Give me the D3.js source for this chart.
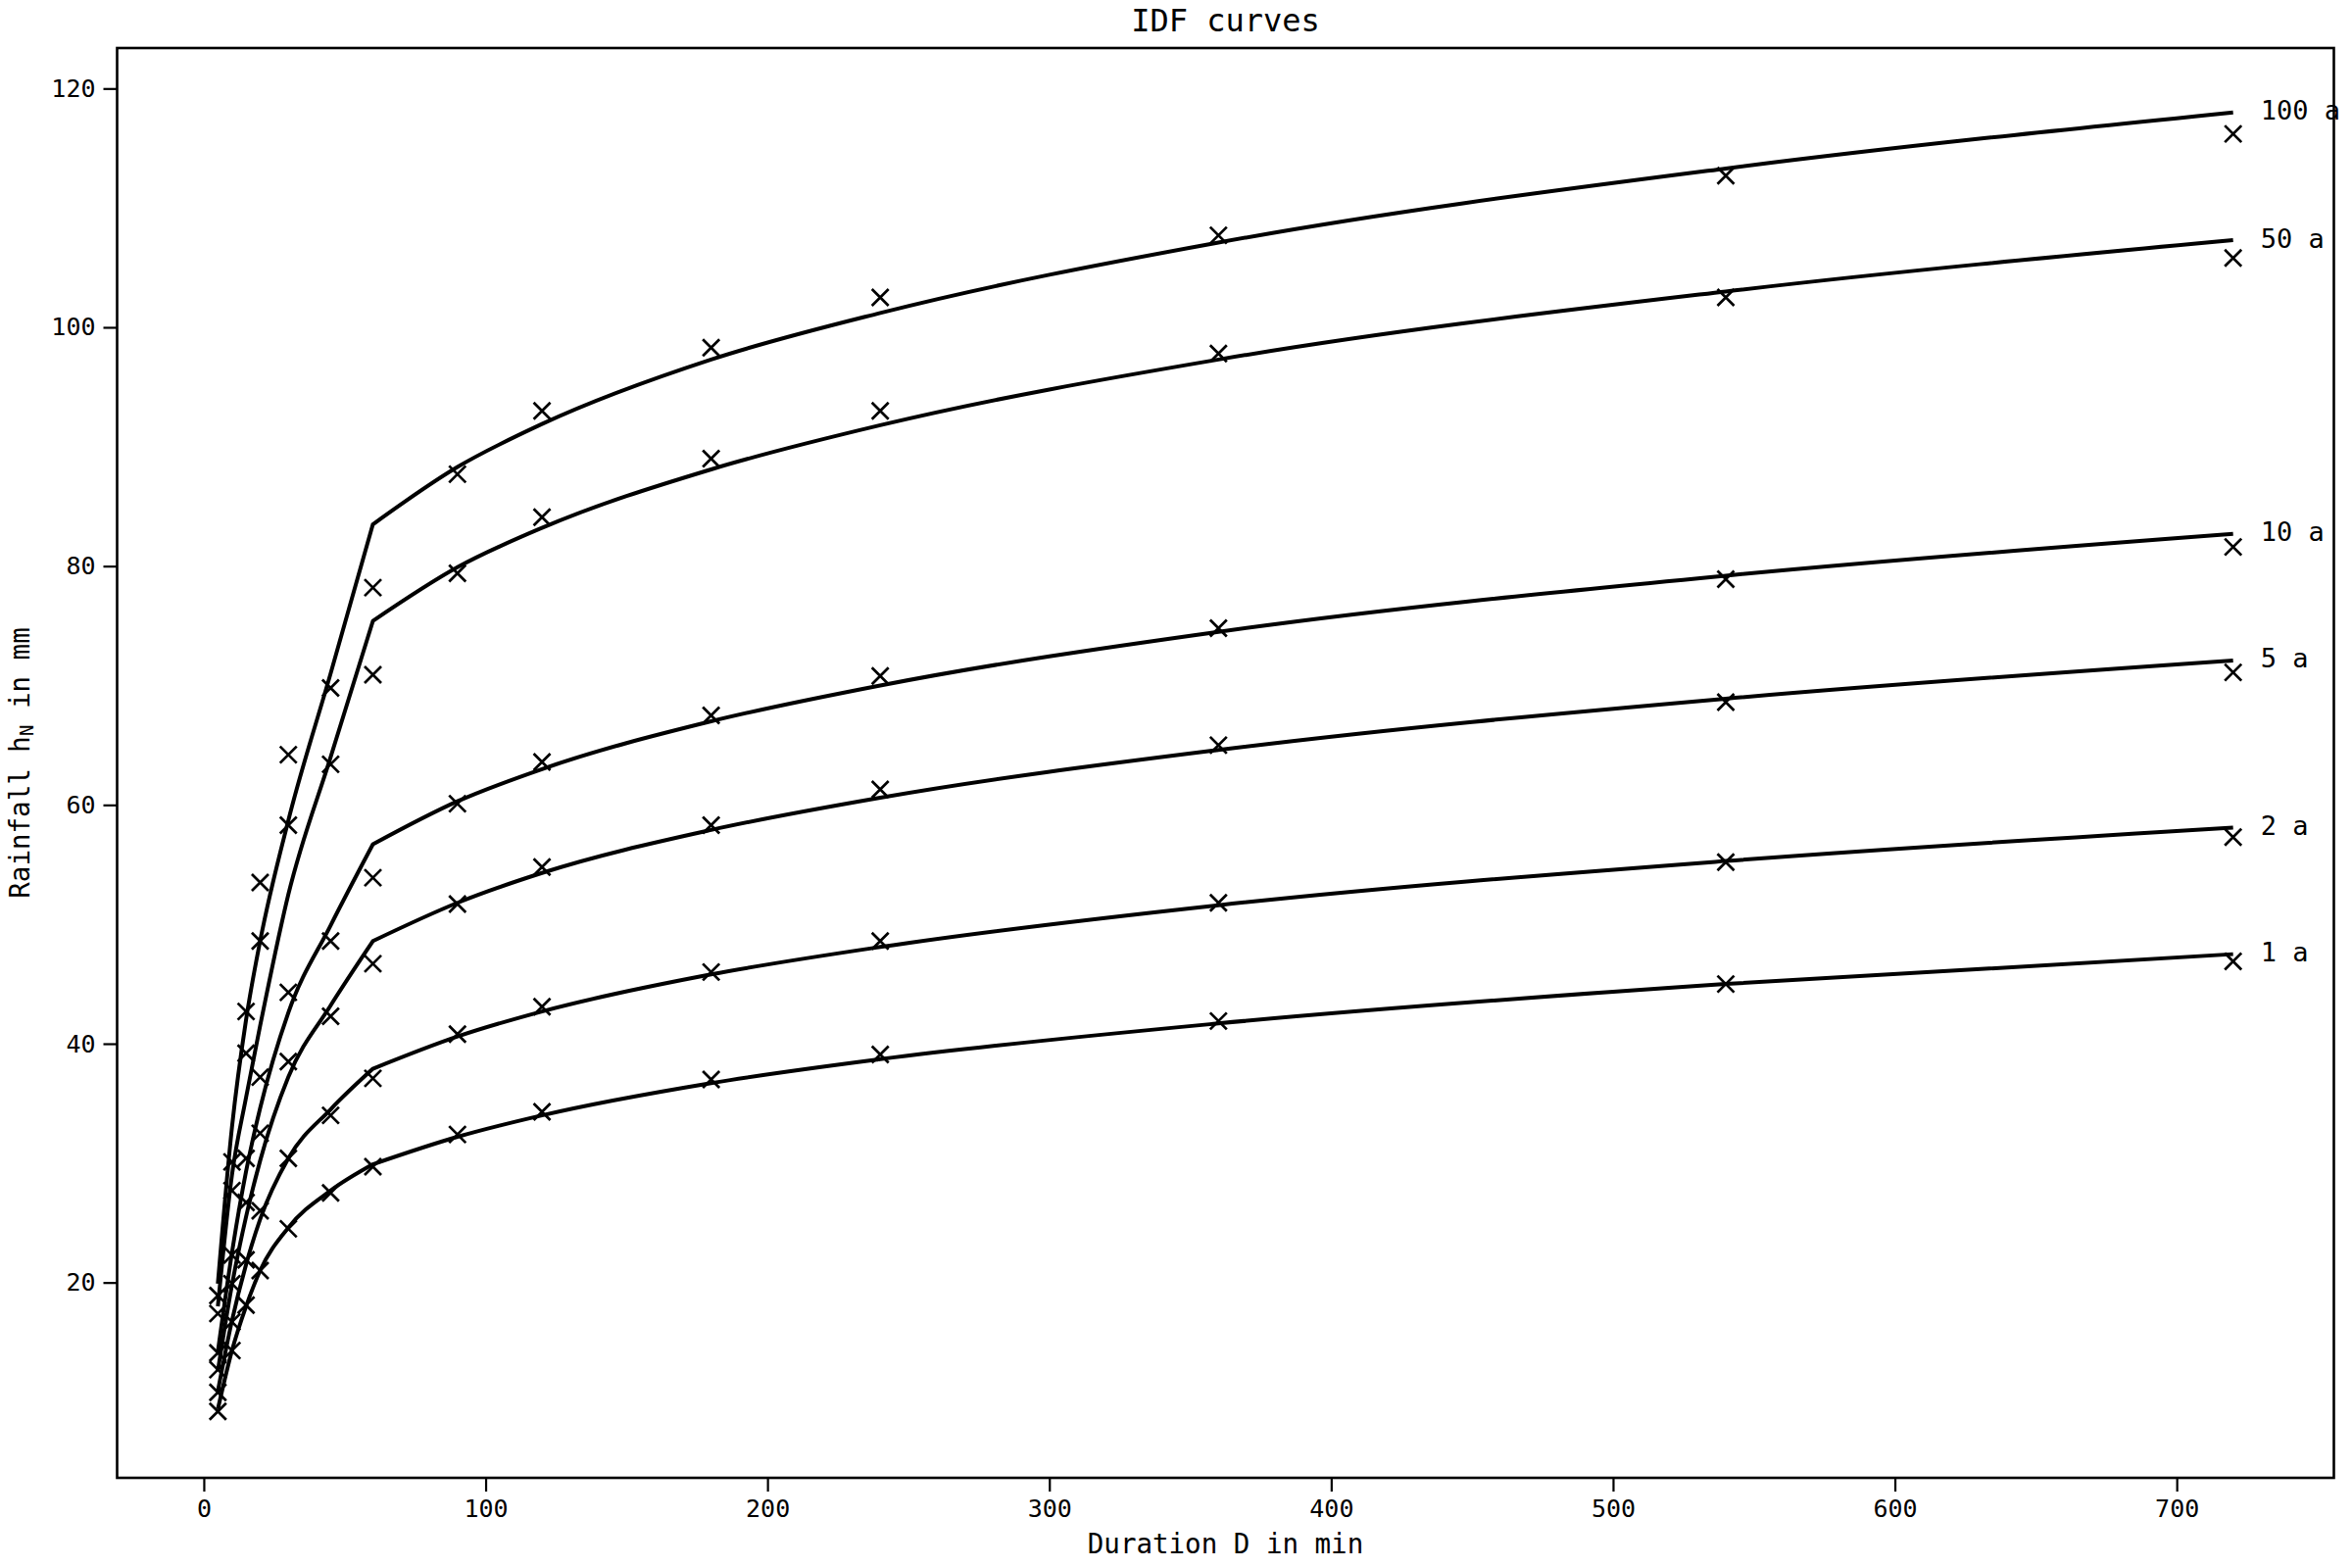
<!DOCTYPE html>
<html>
<head>
<meta charset="utf-8">
<script src="https://cdn.jsdelivr.net/npm/d3@7"></script>
<style>
  html, body { margin: 0; padding: 0; background: #fff; }
  svg { display: block; }
  text { font-family: "DejaVu Sans Mono", monospace; fill: #000; }
</style>
</head>
<body>
<svg id="chart" width="2400" height="1600"></svg>
<script>
// ---- data ----
const durations = [5, 10, 15, 20, 30, 45, 60, 90, 120, 180, 240, 360, 540, 720];
const periodLabels = ["1 a", "2 a", "5 a", "10 a", "50 a", "100 a"];

// observed rainfall depths (markers)
const obs1   = [9.2, 14.3, 18.1, 21.0, 24.5, 27.5, 29.7, 32.4, 34.3, 37.0, 39.1, 41.9, 45.0, 46.9];
const obs2   = [10.8, 16.7, 21.9, 26.0, 30.4, 34.0, 37.1, 40.8, 43.1, 46.0, 48.6, 51.8, 55.2, 57.3];
const obs5   = [12.7, 19.9, 26.7, 32.5, 38.5, 42.3, 46.7, 51.7, 54.8, 58.3, 61.3, 65.0, 68.6, 71.1];
const obs10  = [14.1, 22.3, 30.4, 37.2, 44.3, 48.6, 53.9, 60.1, 63.6, 67.5, 70.8, 74.8, 78.9, 81.6];
const obs50  = [17.4, 27.7, 39.2, 48.6, 58.3, 63.4, 70.9, 79.4, 84.1, 89.0, 93.0, 97.8, 102.5, 105.8];
const obs100 = [18.9, 30.1, 42.7, 53.5, 64.2, 69.8, 78.2, 87.7, 93.0, 98.3, 102.5, 107.7, 112.7, 116.2];

// fitted IDF curves (lines), read at the same durations
const fit1   = [9.4, 14.3, 18.0, 21.0, 24.6, 27.7, 29.9, 32.2, 34.0, 36.7, 38.7, 41.7, 45.0, 47.5];
const fit2   = [10.9, 16.8, 21.5, 25.3, 30.4, 34.5, 37.9, 40.6, 42.7, 45.8, 48.1, 51.6, 55.3, 58.1];
const fit5   = [12.6, 19.8, 25.5, 30.2, 37.2, 43.2, 48.6, 51.8, 54.3, 57.9, 60.6, 64.6, 68.9, 72.1];
const fit10  = [14.2, 22.5, 29.3, 34.6, 42.6, 49.9, 56.7, 60.3, 63.0, 67.0, 70.0, 74.5, 79.2, 82.7];
const fit50  = [18.0, 29.0, 35.5, 41.5, 52.5, 64.0, 75.4, 79.9, 83.2, 88.1, 91.8, 97.3, 103.0, 107.3];
const fit100 = [19.9, 33.0, 42.0, 48.6, 58.7, 71.0, 83.5, 88.3, 91.9, 97.3, 101.2, 107.1, 113.3, 118.0];

const xTicks = [0, 100, 200, 300, 400, 500, 600, 700];
const yTicks = [20, 40, 60, 80, 100, 120];
const breakDuration = 60;

const observed = [obs1, obs2, obs5, obs10, obs50, obs100];
const fitted = [fit1, fit2, fit5, fit10, fit50, fit100];

// ---- layout ----
const L = 119.5, R = 2381.5, T = 49, B = 1508;
const svg = d3.select("#chart");

const x = d3.scaleLinear().domain([-30.75, 755.75]).range([L, R]);
const y = d3.scaleLinear().domain([3.64, 123.39]).range([B, T]);

// axes
const xAxis = d3.axisBottom(x).tickValues(xTicks).tickSize(14).tickPadding(8).tickFormat(d3.format("d"));
const yAxis = d3.axisLeft(y).tickValues(yTicks).tickSize(14).tickPadding(8).tickFormat(d3.format("d"));

const gx = svg.append("g").attr("transform", `translate(0,${B})`).call(xAxis);
const gy = svg.append("g").attr("transform", `translate(${L},0)`).call(yAxis);
[gx, gy].forEach(g => {
  g.select(".domain").remove();
  g.selectAll(".tick line").attr("stroke", "#000").attr("stroke-width", 2.2);
  g.selectAll(".tick text").attr("font-size", 25).attr("font-family", "DejaVu Sans Mono").attr("fill", "#000");
});

// curves: two segments joined at 60 min
const line = d3.line().x(d => x(d[0])).y(d => y(d[1])).curve(d3.curveMonotoneX);
const gLines = svg.append("g");
fitted.forEach(series => {
  const pts = durations.map((d, i) => [d, series[i]]);
  const seg1 = pts.filter(p => p[0] <= breakDuration);
  const seg2 = pts.filter(p => p[0] >= breakDuration);
  gLines.append("path").attr("d", line(seg1) + line(seg2).replace(/^M/, "L"))
    .attr("fill", "none").attr("stroke", "#000").attr("stroke-width", 4)
    .attr("stroke-linejoin", "miter");
});

// markers
const ms = 8.5;
const gMarks = svg.append("g");
observed.forEach(series => {
  durations.forEach((d, i) => {
    const cx = x(d), cy = y(series[i]);
    gMarks.append("path")
      .attr("d", `M${cx - ms},${cy - ms}L${cx + ms},${cy + ms}M${cx - ms},${cy + ms}L${cx + ms},${cy - ms}`)
      .attr("stroke", "#000").attr("stroke-width", 2.7).attr("fill", "none");
  });
});

// frame
svg.append("rect").attr("x", L).attr("y", T).attr("width", R - L).attr("height", B - T)
  .attr("fill", "none").attr("stroke", "#000").attr("stroke-width", 2.6);

// curve labels
const lastIdx = durations.length - 1;
fitted.forEach((series, k) => {
  svg.append("text")
    .attr("x", x(durations[lastIdx]) + 28)
    .attr("y", y(series[lastIdx]))
    .attr("dominant-baseline", "middle")
    .attr("font-size", 27)
    .text(periodLabels[k]);
});

// title & axis labels
svg.append("text").attr("x", (L + R) / 2).attr("y", 23).attr("text-anchor", "middle")
  .attr("dominant-baseline", "middle").attr("font-size", 32).text("IDF curves");

svg.append("text").attr("x", (L + R) / 2).attr("y", 1577).attr("text-anchor", "middle")
  .attr("dominant-baseline", "middle").attr("font-size", 27.5).text("Duration D in min");

const yl = svg.append("text").attr("transform", `translate(22,${(T + B) / 2}) rotate(-90)`)
  .attr("text-anchor", "middle").attr("dominant-baseline", "middle").attr("font-size", 27.5);
yl.append("tspan").text("Rainfall h");
yl.append("tspan").attr("font-size", 19).attr("dy", 6).text("N");
yl.append("tspan").attr("dy", -6).text(" in mm");
</script>
</body>
</html>
